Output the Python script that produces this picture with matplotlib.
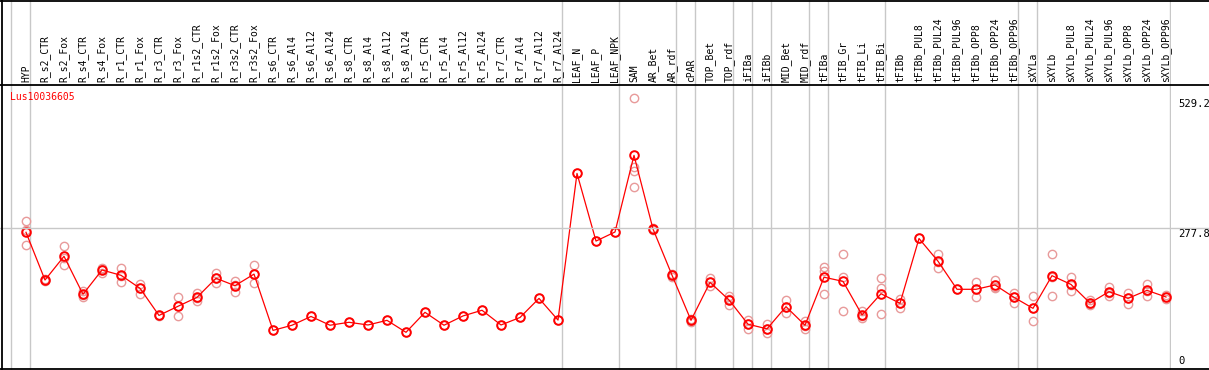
import matplotlib
matplotlib.use("Agg")
import matplotlib.pyplot as plt
from matplotlib.lines import Line2D
import numpy as np

gene = "Lus10036605"
labels = ["HYP", "R_s2_CTR", "R_s2_Fox", "R_s4_CTR", "R_s4_Fox", "R_r1_CTR", "R_r1_Fox",
          "R_r3_CTR", "R_r3_Fox", "R_r1s2_CTR", "R_r1s2_Fox", "R_r3s2_CTR", "R_r3s2_Fox",
          "R_s6_CTR", "R_s6_Al4", "R_s6_Al12", "R_s6_Al24", "R_s8_CTR", "R_s8_Al4", "R_s8_Al12",
          "R_s8_Al24", "R_r5_CTR", "R_r5_Al4", "R_r5_Al12", "R_r5_Al24", "R_r7_CTR", "R_r7_Al4",
          "R_r7_Al12", "R_r7_Al24", "LEAF_N", "LEAF_P", "LEAF_NPK", "SAM", "AR_Bet", "AR_rdf",
          "cPAR", "TOP_Bet", "TOP_rdf", "iFIBa", "iFIBb", "MID_Bet", "MID_rdf", "tFIBa",
          "tFIB_Gr", "tFIB_Li", "tFIB_Bi", "tFIBb", "tFIBb_PUL8", "tFIBb_PUL24", "tFIBb_PUL96",
          "tFIBb_OPP8", "tFIBb_OPP24", "tFIBb_OPP96", "sXYLa", "sXYLb", "sXYLb_PUL8",
          "sXYLb_PUL24", "sXYLb_PUL96", "sXYLb_OPP8", "sXYLb_OPP24", "sXYLb_OPP96"]

means = [270, 177.6, 223.5, 150, 197, 186.7, 161.5, 109, 126.7, 144, 181, 166.6, 189,
         80, 90, 107, 90, 95.7, 90.5, 99.5, 76.3, 115, 90, 108, 119, 90.5, 105, 142, 100,
         384, 253, 270.6, 419, 276.4, 187, 99.5, 173, 139, 92, 83, 126, 90, 183, 175, 110,
         151, 132.5, 258, 214, 159.6, 159.6, 168, 144, 122.7, 186, 169, 133, 155, 142,
         157.6, 144.7]

replicates = [
    [291, 274, 245], [179, 176], [243.5, 221, 206], [156, 149, 145], [200, 198, 192],
    [200, 186, 174], [170, 163, 151], [110, 108], [144.7, 128, 107], [152, 143, 137],
    [190.6, 181, 171], [176, 168, 155], [206.7, 189, 171],
    [80], [90], [107], [90], [95.7], [90.5], [99.5], [76.3], [115], [90], [108], [119],
    [90.5], [105], [142], [100],
    [384], [253], [270.6],
    [529.2, 397, 389, 357], [278, 275], [190, 187, 183],
    [102, 99, 97], [181, 173, 166], [147, 140, 129], [99.5, 93, 83], [92, 82, 75.5],
    [139, 125, 114], [99, 89, 82.7], [203, 196, 150], [228, 183, 117.5], [118, 108, 104.6],
    [181, 162, 111], [141, 133, 124], [258], [228, 213, 201], [159.6],
    [174, 160, 145], [177.6, 165, 161.5], [153, 145, 134], [147, 123, 97.6],
    [228, 184, 146], [184, 167, 155.7], [139, 131, 129], [164.6, 153, 147],
    [153, 142, 130.5], [170, 156, 147], [148.5, 145, 140],
]

group_ends = [-1, 0, 28, 31, 34, 35, 37, 38, 39, 41, 42, 45, 52, 53, 60]
ytick_vals = [529.2, 277.8, 0]

W, H = 1209, 370
DPI = 100
fig = plt.figure(figsize=(W / DPI, H / DPI), dpi=DPI)
fig.patch.set_facecolor("white")

def fx(px):
    return px / W

def fy(py):
    return 1 - py / H

font = "DejaVu Sans Mono"
fs = 7

# pixel geometry
x0_px, step_px = 26.0, 19.0
ax_left, ax_right = 1.0, 1171.0
ax_top, ax_bot = 85.0, 369.5
zero_px, k = 371.7, 0.5163

xlim = ((ax_left - x0_px) / step_px, (ax_right - x0_px) / step_px)
ylim = ((zero_px - ax_bot) / k, (zero_px - ax_top) / k)

ax = fig.add_axes([fx(ax_left), fy(ax_bot), fx(ax_right - ax_left), (ax_bot - ax_top) / H])
ax.set_xlim(*xlim)
ax.set_ylim(*ylim)
ax.set_facecolor("none")
for s in ax.spines.values():
    s.set_visible(False)
ax.set_xticks([])
ax.set_yticks([])

axh = fig.add_axes([fx(ax_left), fy(ax_top), fx(ax_right - ax_left), ax_top / H])
axh.set_xlim(*xlim)
axh.set_ylim(0, ax_top)
axh.set_facecolor("none")
for s in axh.spines.values():
    s.set_visible(False)
axh.set_xticks([])
axh.set_yticks([])

grid_c = "#c8c8c8"
sep_off = 4.0 / step_px
for g in group_ends:
    ax.axvline(g + sep_off, color=grid_c, lw=1.0, zorder=1)
    axh.axvline(g + sep_off, color=grid_c, lw=1.0, zorder=1)

# horizontal grid line at mid value (full width)
y_mid_px = zero_px - ytick_vals[1] * k
fig.add_artist(Line2D([0, 1], [fy(y_mid_px), fy(y_mid_px)], color=grid_c, lw=1.0, zorder=1))

# black frame lines
for y in [0.5, 85.0, 369.0]:
    fig.add_artist(Line2D([0, 1], [fy(y), fy(y)], color="black", lw=1.3, zorder=5))
fig.add_artist(Line2D([fx(1.5), fx(1.5)], [fy(0), fy(370)], color="black", lw=1.3, zorder=5))

# header labels
for i, lab in enumerate(labels):
    axh.text(i, 2.5, lab, rotation=90, ha="center", va="bottom", fontsize=fs,
             family=font, color="black")

# replicate points
rep_c = "#e89a9a"
for i, reps in enumerate(replicates):
    ax.plot(np.full(len(reps), i), reps, linestyle="none", marker="o", markersize=6,
            markerfacecolor="none", markeredgecolor=rep_c, markeredgewidth=1.0, zorder=3)

# mean line
xs = np.arange(len(means))
ax.plot(xs, means, color="red", lw=0.9, marker="o", markersize=6.2,
        markerfacecolor="none", markeredgecolor="red", markeredgewidth=1.4, zorder=4)

# gene label
fig.text(fx(10), fy(92), gene, color="red", fontsize=fs, family=font, ha="left", va="top")

# right axis labels
for v in ytick_vals:
    py = zero_px - v * k
    if v == 0:
        py = 355
    fig.text(fx(1178.5), fy(py + 1.0), f"{v:g}", color="black",
             fontsize=7.6, family=font, ha="left", va="top")

fig.savefig("out.png", dpi=DPI)
